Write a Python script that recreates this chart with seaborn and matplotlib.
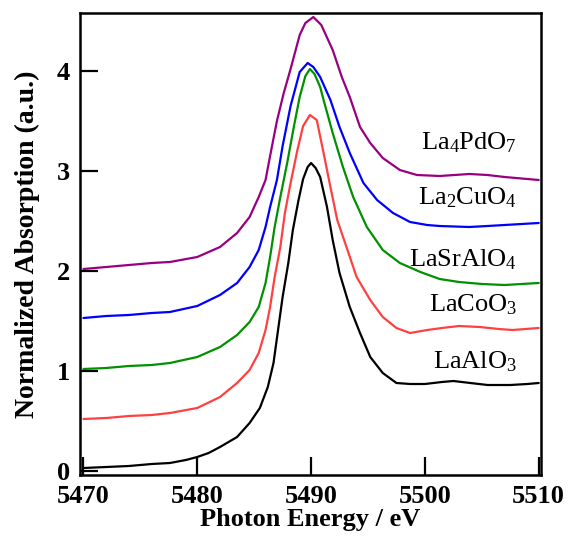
import numpy as np
import pandas as pd
import matplotlib
matplotlib.use("Agg")
import matplotlib.pyplot as plt
import seaborn as sns

# ---- data ----
laalo3_e = [5470, 5472, 5474, 5476, 5477.6, 5479, 5480.0, 5481, 5482.0, 5483.5, 5484.6,
            5485.5, 5486.2, 5486.7, 5487.1, 5487.5, 5488.0, 5488.4, 5488.9, 5489.3, 5489.7,
            5490.0, 5490.4, 5490.8, 5491.4, 5491.9, 5492.5, 5493.4, 5494.3, 5495.2, 5496.3,
            5497.5, 5498.7, 5500.0, 5501.5, 5502.5, 5504, 5505.5, 5507.5, 5509, 5510]
laalo3_a = [0.03, 0.04, 0.05, 0.07, 0.08, 0.11, 0.14, 0.18, 0.24, 0.34, 0.48,
            0.63, 0.84, 1.08, 1.41, 1.74, 2.08, 2.41, 2.71, 2.92, 3.04,
            3.08, 3.03, 2.94, 2.64, 2.31, 1.98, 1.64, 1.38, 1.14, 0.98,
            0.88, 0.87, 0.87, 0.89, 0.90, 0.88, 0.86, 0.86, 0.87, 0.88]

lacoo3_e = [5470, 5472, 5474, 5476, 5477.6, 5480.0, 5482.0, 5483.5, 5484.6, 5485.4, 5486.0,
            5486.4, 5486.8, 5487.3, 5487.7, 5488.2, 5488.8, 5489.3, 5489.9, 5490.5, 5491.1,
            5491.7, 5492.3, 5493.2, 5494.0, 5495.2, 5496.3, 5497.5, 5498.7, 5500.2, 5501.5,
            5503, 5504.8, 5506.5, 5507.7, 5510]
lacoo3_a = [0.52, 0.53, 0.55, 0.56, 0.58, 0.63, 0.74, 0.88, 1.01, 1.18, 1.41,
            1.64, 1.94, 2.24, 2.58, 2.88, 3.21, 3.45, 3.56, 3.51, 3.18,
            2.84, 2.51, 2.21, 1.94, 1.71, 1.54, 1.43, 1.38, 1.41, 1.43,
            1.45, 1.44, 1.42, 1.41, 1.43]

lasralo4_e = [5470, 5472, 5474, 5476, 5477.6, 5480.0, 5482.0, 5483.5, 5484.6, 5485.4, 5486.0,
              5486.4, 5486.8, 5487.3, 5487.9, 5488.5, 5489.0, 5489.5, 5489.9, 5490.3, 5490.8,
              5491.1, 5491.9, 5492.8, 5493.7, 5494.9, 5496.3, 5497.8, 5499.6, 5501.3, 5503,
              5505, 5507, 5508.5, 5510]
lasralo4_a = [1.02, 1.03, 1.05, 1.06, 1.08, 1.14, 1.24, 1.36, 1.49, 1.64, 1.88,
              2.14, 2.44, 2.74, 3.08, 3.45, 3.74, 3.95, 4.02, 3.97, 3.84,
              3.71, 3.38, 3.04, 2.74, 2.44, 2.21, 2.08, 1.99, 1.92, 1.89,
              1.87, 1.86, 1.87, 1.88]

la2cuo4_e = [5470, 5472, 5474, 5476, 5477.6, 5480.0, 5482.0, 5483.5, 5484.6, 5485.4, 5486.0,
             5486.4, 5487.0, 5487.5, 5488.2, 5489.0, 5489.7, 5490.2, 5490.8, 5491.7, 5492.5,
             5493.4, 5494.6, 5495.8, 5497.2, 5498.7, 5500.2, 5501.3, 5503.9, 5505.5, 5507.0,
             5510]
la2cuo4_a = [1.53, 1.55, 1.56, 1.58, 1.59, 1.65, 1.76, 1.88, 2.04, 2.21, 2.44,
             2.64, 2.91, 3.25, 3.65, 3.99, 4.08, 4.04, 3.94, 3.71, 3.44,
             3.18, 2.88, 2.71, 2.58, 2.49, 2.46, 2.45, 2.44, 2.45, 2.46,
             2.48]

la4pdo7_e = [5470, 5472, 5474, 5476, 5477.6, 5480.0, 5482.0, 5483.5, 5484.6, 5485.4, 5486.0,
             5486.4, 5487.0, 5487.6, 5488.2, 5489.0, 5489.5, 5490.2, 5490.9, 5491.5, 5491.9,
             5492.7, 5493.4, 5494.3, 5495.2, 5496.3, 5497.8, 5499.3, 5501.3, 5503.9, 5505.5,
             5507.0, 5510]
la4pdo7_a = [2.02, 2.04, 2.06, 2.08, 2.09, 2.14, 2.24, 2.38, 2.54, 2.74, 2.91,
             3.15, 3.50, 3.78, 4.02, 4.36, 4.48, 4.54, 4.46, 4.31, 4.21,
             3.94, 3.74, 3.44, 3.28, 3.13, 3.01, 2.96, 2.95, 2.97, 2.96,
             2.94, 2.91]

samples = ["LaAlO3", "LaCoO3", "LaSrAlO4", "La2CuO4", "La4PdO7"]
labels = [r"LaAlO$_3$", r"LaCoO$_3$", r"LaSrAlO$_4$", r"La$_2$CuO$_4$", r"La$_4$PdO$_7$"]
label_x = [5508.1, 5508.1, 5508.1, 5508.1, 5508.1]
label_y = [1.09, 1.66, 2.11, 2.73, 3.28]
colors = ["#000000", "#ff4040", "#009000", "#0000ff", "#990080"]

x_ticks = [5470, 5480, 5490, 5500, 5510]
y_ticks = [0, 1, 2, 3, 4]

series = {
    "LaAlO3": (laalo3_e, laalo3_a),
    "LaCoO3": (lacoo3_e, lacoo3_a),
    "LaSrAlO4": (lasralo4_e, lasralo4_a),
    "La2CuO4": (la2cuo4_e, la2cuo4_a),
    "La4PdO7": (la4pdo7_e, la4pdo7_a),
}
frames = []
for name in samples:
    e, a = series[name]
    frames.append(pd.DataFrame({"E": e, "A": a, "sample": name}))
df = pd.concat(frames, ignore_index=True)

# ---- style ----
sns.set_style("ticks")
plt.rcParams["font.family"] = ["Liberation Serif", "DejaVu Serif"]
plt.rcParams["mathtext.fontset"] = "custom"
plt.rcParams["mathtext.rm"] = "Liberation Serif"
plt.rcParams["mathtext.it"] = "Liberation Serif:italic"
plt.rcParams["mathtext.bf"] = "Liberation Serif:bold"
plt.rcParams["text.color"] = "black"
plt.rcParams["axes.labelcolor"] = "black"
plt.rcParams["xtick.color"] = "black"
plt.rcParams["ytick.color"] = "black"
plt.rcParams["axes.edgecolor"] = "black"

fig = plt.figure(figsize=(5.68, 5.38), dpi=100)
ax = fig.add_axes([80 / 568, 1 - 475 / 538, (541 - 80) / 568, (475 - 13) / 538])

sns.lineplot(data=df, x="E", y="A", hue="sample", hue_order=samples,
             palette=dict(zip(samples, colors)), legend=False, sort=False,
             estimator=None, linewidth=1.6, ax=ax)

for lab, lx, ly in zip(labels, label_x, label_y):
    ax.text(lx, ly, lab, ha="right", va="center", fontsize=19, color="black")

ax.set_xlim(5469.7, 5510.2)
ax.set_ylim(-0.04, 4.58)
ax.set_xticks(x_ticks)
ax.set_yticks(y_ticks)
ax.set_xticklabels([str(t) for t in x_ticks], fontweight="bold", fontsize=19, color="black")
ax.set_yticklabels([str(t) for t in y_ticks], fontweight="bold", fontsize=19, color="black")
ax.tick_params(direction="in", length=13, width=1.6, top=False, right=False, colors="black")
ax.tick_params(axis="x", pad=7)
ax.tick_params(axis="y", pad=7)
for sp in ax.spines.values():
    sp.set_linewidth(1.8)
    sp.set_color("black")

ax.set_xlabel("Photon Energy / eV", fontweight="bold", fontsize=19, labelpad=0, color="black")
ax.set_ylabel("Normalized Absorption (a.u.)", fontweight="bold", fontsize=20, labelpad=12,
              color="black")

fig.savefig("out.png", dpi=100)
